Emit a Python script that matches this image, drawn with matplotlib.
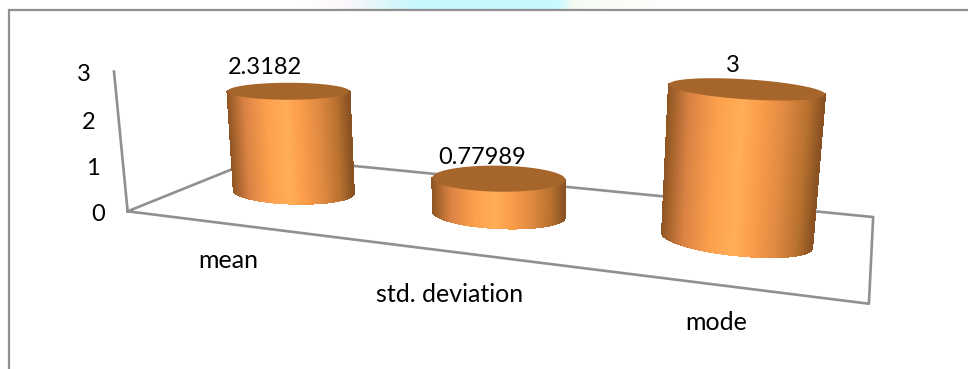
import numpy as np
import matplotlib
matplotlib.use('Agg')
import matplotlib.pyplot as plt
from matplotlib.collections import PolyCollection
from matplotlib.colors import LinearSegmentedColormap

# data
categories = ['mean', 'std. deviation', 'mode']
values = [2.3182, 0.77989, 3]
value_labels = ['2.3182', '0.77989', '3']
y_ticks = [0, 1, 2, 3]

# ellipse shape of each cylinder end in pixels: half width, half height, tilt
bottom_shape = [(60, 12, .025), (66, 14, .045), (75, 15, .10)]
top_shape = [(61, 8.5, .0), (66.5, 13, .015), (78, 10, .064)]

W, H = 968, 369
GRAY = '#909090'
TOP_COLOR = '#a5652b'

# camera calibration: (depth-box x, depth, height) -> pixel
world = np.array([[0, 0, 0], [0, 1, 0], [3, 1, 0], [3, 0, 0], [0, 0, 3],
                  [.5, .5, 0], [1.5, .5, 0], [2.5, .5, 0], [2.5, .5, 3]], float)
pixel = np.array([[128, 211], [263, 156], [873, 216], [869, 302], [114, 71],
                  [293, 193], [498, 215], [738, 242], [747, 90]], float)


def fit_camera(w, p):
    rows = []
    for (x, y, z), (u, v) in zip(w, p):
        rows.append([x, y, z, 1, 0, 0, 0, 0, -u*x, -u*y, -u*z, -u])
        rows.append([0, 0, 0, 0, x, y, z, 1, -v*x, -v*y, -v*z, -v])
    return np.linalg.svd(np.array(rows))[2][-1].reshape(3, 4)


cam = fit_camera(world, pixel)


def project(x, y, z):
    x, y, z = np.broadcast_arrays(x, y, z)
    q = cam @ np.vstack([x.ravel(), y.ravel(), z.ravel(), np.ones(x.size)])
    return np.column_stack([q[0]/q[2], q[1]/q[2]])


def ring(center, shape, theta):
    a, b, tilt = shape
    px = center[0] + a*np.cos(theta)
    py = center[1] + b*np.sin(theta) + tilt*a*np.cos(theta)
    return np.column_stack([px, py])


plt.rcParams['font.family'] = 'Lato'
fig = plt.figure(figsize=(W/100, H/100), dpi=100)
ax = fig.add_axes([0, 0, 1, 1])

# pale cyan band above the frame
band = LinearSegmentedColormap.from_list('band', [(0, '#ffffff'), (.12, '#fdf6fa'), (.25, '#d4f7fa'),
                                                  (.3, '#c8f9fe'), (.68, '#c8f9fe'), (.72, '#f5fbf2'),
                                                  (.88, '#fbfdf8'), (1, '#ffffff')])
ax.imshow(np.linspace(0, 1, 256)[None, :], cmap=band, extent=[300, 680, 9, 0], aspect='auto', zorder=0)
ax.set_xlim(0, W)
ax.set_ylim(H, 0)
ax.axis('off')

ax.plot([8.5, 8.5, W], [H, 10, 10], color=GRAY, lw=1.6, zorder=1, solid_joinstyle='miter')

# floor and vertical axis
floor = project(np.array([0, 0, 3, 3, 0]), np.array([0, 1, 1, 0, 0]), 0)
ax.plot(floor[:, 0], floor[:, 1], color=GRAY, lw=1.9, zorder=2)
axis_line = project(0, 0, np.array([0, 3]))
ax.plot(axis_line[:, 0], axis_line[:, 1], color=GRAY, lw=1.9, zorder=2)

# cylinders
side = LinearSegmentedColormap.from_list('side', [(0, '#8a5222'), (.1, '#b8722f'), (.25, '#e08a42'),
                                                  (.4, '#fb9c49'), (.52, '#ffae58'), (.68, '#fda04c'),
                                                  (.86, '#d98244'), (1, '#8f5522')])
front = np.linspace(np.pi, 0, 361)
whole = np.linspace(0, 2*np.pi, 241)
for i, val in enumerate(values):
    base_c = project(i + .5, .5, 0)[0]
    top_c = project(i + .5, .5, val)[0]
    low = ring(base_c, bottom_shape[i], front)
    high = ring(top_c, top_shape[i], front)
    # solid wall first so the floor lines cannot show between the facets
    outline = np.vstack([low, high[::-1]])
    ax.fill(outline[:, 0], outline[:, 1], color='#f09548', lw=0, zorder=3)
    quads = [[low[k], low[k+1], high[k+1], high[k]] for k in range(len(front)-1)]
    shades = (1 - np.cos(front[:-1]))/2
    ax.add_collection(PolyCollection(quads, array=shades, cmap=side, clim=(0, 1),
                                     edgecolors='face', linewidths=.8, antialiaseds=False, zorder=3))
    lid = ring(top_c, top_shape[i], whole)
    ax.fill(lid[:, 0], lid[:, 1], color=TOP_COLOR, lw=0, zorder=4)

# text
FS = 17
LABEL_FS = 18
tick_xy = project(0, 0, np.array(y_ticks, float))
for t, (px, py) in zip(y_ticks, tick_xy):
    ax.text(px-30, py+3, str(t), fontsize=FS, ha='center', va='center', color='black', zorder=5)
label_xy = [(228, 261), (450, 294), (716, 322)]
for name, (px, py) in zip(categories, label_xy):
    ax.text(px, py, name, fontsize=LABEL_FS, ha='center', va='center', color='black', zorder=5)
val_xy = [(265, 67), (482, 157), (733, 65)]
for txt, (px, py) in zip(value_labels, val_xy):
    ax.text(px, py, txt, fontsize=FS, ha='center', va='center', color='black', zorder=5)

fig.savefig('out.png', dpi=100)
plt.close()
